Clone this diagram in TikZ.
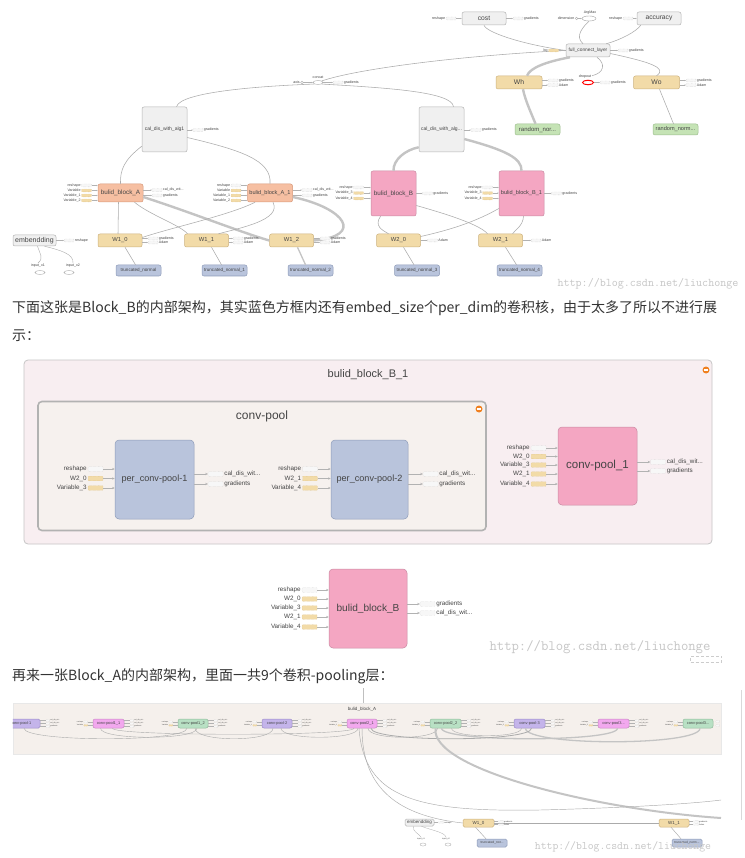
\documentclass[tikz,border=0pt]{standalone}
\usepackage{fontspec}
\setmainfont{Liberation Sans}
\newfontfamily\cjk{Noto Sans CJK SC}
\usetikzlibrary{arrows.meta,shapes.geometric,calc}
\newcommand\myfs[1]{\fontsize{#1}{#1}\selectfont}
\definecolor{gfill}{HTML}{F0F0F0}\definecolor{gdraw}{HTML}{B4B4B4}
\definecolor{ofill}{HTML}{F6BFA2}\definecolor{odraw}{HTML}{D89878}
\definecolor{pfill}{HTML}{F4A6C2}\definecolor{pdraw}{HTML}{C98AA2}
\definecolor{tfill}{HTML}{F2DBA8}\definecolor{tdraw}{HTML}{CDB27E}
\definecolor{grfill}{HTML}{C5E3B5}\definecolor{grdraw}{HTML}{9DBE8E}
\definecolor{bfill}{HTML}{B9C4DC}\definecolor{bdraw}{HTML}{8E9CB9}
\definecolor{vfill}{HTML}{C4B4EA}\definecolor{vdraw}{HTML}{9C8CC8}
\definecolor{mfill}{HTML}{F2A8EE}\definecolor{mdraw}{HTML}{C888C4}
\definecolor{g2fill}{HTML}{B8E0C4}\definecolor{g2draw}{HTML}{90BC9C}
\definecolor{edgec}{HTML}{ABABAB}\definecolor{thickc}{HTML}{C4C4C4}
\definecolor{bgA}{HTML}{F5F0EC}\definecolor{outerB}{HTML}{F8EEF1}
\definecolor{innerB}{HTML}{F6F1EE}\definecolor{txt}{HTML}{333333}
\definecolor{labc}{HTML}{444444}\definecolor{orangec}{HTML}{F08020}
\newcommand\instub[6]{%
 \node[#6] (#1) at (#3,#4) {};
 \node[slab,anchor=east] (#1t) at (#1.west) {#2};
 \draw[sarr] (#1.east) -- (#5.west |- #1.east);}
\newcommand\outstub[6]{%
 \node[#6] (#1) at (#3,#4) {};
 \node[slab,anchor=west] (#1t) at (#1.east) {#2};
 \draw[sarr] (#5.east |- #1.west) -- (#1.west);}
\begin{document}
\begin{tikzpicture}[x=1pt,y=-1pt,
 nd/.style={draw, rounded corners=2pt, inner sep=0pt, line width=0.5pt, text=labc},
 sz/.style 2 args={minimum width=#1, minimum height=#2},
 gn/.style={nd, fill=gfill, draw=gdraw},
 on/.style={nd, fill=ofill, draw=odraw},
 pn/.style={nd, fill=pfill, draw=pdraw},
 tnd/.style={nd, fill=tfill, draw=tdraw},
 grn/.style={nd, fill=grfill, draw=grdraw},
 bn/.style={nd, fill=bfill, draw=bdraw},
 vn/.style={nd, fill=vfill, draw=vdraw},
 mn/.style={nd, fill=mfill, draw=mdraw},
 g2n/.style={nd, fill=g2fill, draw=g2draw},
 stubsize/.style={minimum width=10pt, minimum height=2.8pt},
 sg/.style={draw=gray!55, densely dotted, fill=gray!6, rounded corners=0.6pt, inner sep=0pt, line width=0.3pt, stubsize},
 st/.style={draw=tdraw, densely dotted, fill=tfill, rounded corners=0.6pt, inner sep=0pt, line width=0.3pt, stubsize},
 slab/.style={font=\myfs{3.6}, text=labc, inner sep=0.6pt},
 sarr/.style={draw=gray!60, line width=0.3pt, -{Stealth[length=1.4pt,width=1.2pt]}},
 ed/.style={draw=edgec, line width=0.55pt},
 edk/.style={draw=thickc, line width=2.4pt},
 edm/.style={draw=thickc, line width=1.3pt},
 ttl/.style={text=labc, inner sep=0pt},
 wmk/.style={text=gray!45, inner sep=0pt, font=\ttfamily},
 para/.style={text=txt, inner sep=0pt, anchor=west},
 small ell/.style={ellipse, draw=gray!70, fill=white, inner sep=0pt, line width=0.4pt},
 mcirc/.style={circle, fill=orangec, minimum size=7pt, inner sep=0pt},
]
\useasboundingbox (0,0) rectangle (744,858);
\fill[white] (0,0) rectangle (744,858);

%%%%%%%%%%%%%%%% TOP GRAPH %%%%%%%%%%%%%%%%
\node[gn, sz={44pt}{13pt}, font=\myfs{6.7}] (cost) at (484,18.5) {cost};
\node[gn, sz={44pt}{13pt}, font=\myfs{6.7}] (acc) at (659,18.5) {accuracy};
\node[gn, sz={44pt}{13pt}, font=\myfs{4.8}] (fcl) at (588,50.5) {full\_connect\_layer};
\node[tnd, sz={46pt}{13pt}, font=\myfs{6.8}] (Wh) at (519,82.5) {Wh};
\node[tnd, sz={46pt}{13pt}, font=\myfs{6.8}] (Wo) at (656.5,82.5) {Wo};
\node[grn, sz={45pt}{11pt}, font=\myfs{6}] (rn1) at (537.5,129.5) {random\_nor...};
\node[grn, sz={45pt}{11pt}, font=\myfs{5.6}] (rn2) at (675.5,129.5) {random\_norm...};
\node[small ell, minimum width=14pt, minimum height=5pt] (argmax) at (589,18.5) {};
\node[ellipse, draw=red, line width=1pt, inner sep=0pt, minimum width=11pt, minimum height=4.5pt] (dropout) at (588,82.5) {};
\node[small ell, minimum width=10pt, minimum height=4pt] (concat) at (318,82.5) {};
\node[gn, sz={45pt}{45pt}, font=\myfs{5}] (cal1) at (164.5,129.5) {cal\_dis\_with\_alg1};
\node[gn, sz={45pt}{45pt}, font=\myfs{5}] (cal2) at (441.5,129.5) {cal\_dis\_with\_alg...};
\node[on, sz={45pt}{18pt}, font=\myfs{6.3}] (bbA) at (120.5,193) {bulid\_block\_A};
\node[on, sz={45pt}{18pt}, font=\myfs{5.6}] (bbA1) at (270,193) {bulid\_block\_A\_1};
\node[pn, sz={45pt}{45pt}, font=\myfs{6.3}] (bbB) at (393.5,193.5) {bulid\_block\_B};
\node[pn, sz={45pt}{45pt}, font=\myfs{5.6}] (bbB1) at (521.5,193.5) {bulid\_block\_B\_1};
\node[tnd, sz={44pt}{13pt}, font=\myfs{5.8}] (W10) at (120,240.5) {W1\_0};
\node[tnd, sz={44pt}{13pt}, font=\myfs{5.8}] (W11) at (206.5,240.5) {W1\_1};
\node[tnd, sz={44pt}{13pt}, font=\myfs{5.8}] (W12) at (291.5,240.5) {W1\_2};
\node[tnd, sz={44pt}{13pt}, font=\myfs{5.8}] (W20) at (398.5,240.5) {W2\_0};
\node[tnd, sz={44pt}{13pt}, font=\myfs{5.8}] (W21) at (500.5,240.5) {W2\_1};
\node[bn, sz={45pt}{11pt}, font=\myfs{4.6}] (tn0) at (138.5,270.5) {truncated\_normal};
\node[bn, sz={45pt}{11pt}, font=\myfs{4.6}] (tn1) at (224.5,270.5) {truncated\_normal\_1};
\node[bn, sz={45pt}{11pt}, font=\myfs{4.6}] (tn2) at (310.5,270.5) {truncated\_normal\_2};
\node[bn, sz={45pt}{11pt}, font=\myfs{4.6}] (tn3) at (417,270.5) {truncated\_normal\_3};
\node[bn, sz={45pt}{11pt}, font=\myfs{4.6}] (tn4) at (519.5,270.5) {truncated\_normal\_4};
\node[gn, sz={43pt}{11pt}, font=\myfs{7}] (emb) at (34.5,240.5) {embendding};
\node[small ell, minimum width=10pt, minimum height=4pt] (x1) at (40,272.5) {};
\node[small ell, minimum width=10pt, minimum height=4pt] (x2) at (69,272.5) {};
\node[slab] (x1t) at (38,265.5) {input\_x1};
\node[slab] (x2t) at (73,265.5) {input\_x2};

% edges
\draw[ed] (cost.south) .. controls (486,32) and (520,44) .. (fcl.west);
\draw[ed] ([xshift=4pt]acc.south west) .. controls (636,32) and (620,40) .. ([xshift=-4pt]fcl.north east);
\draw[ed] (argmax.south) .. controls (584,26) and (574,36) .. ([xshift=-5pt]fcl.north);
\draw[ed] (concat.north east) .. controls (360,68) and (470,55) .. (fcl.west);
\draw[ed] (concat.south east) .. controls (390,88) and (452,92) .. ([xshift=12pt]cal2.north);
\draw[ed] (concat.south west) .. controls (260,86) and (180,92) .. ([xshift=12pt]cal1.north);
\draw[ed] ([yshift=6pt]cal1.south west) .. controls (124,160) and (120,170) .. (bbA.north);
\draw[ed] ([yshift=-8pt]cal1.east) .. controls (240,150) and (272,160) .. (bbA1.north);
\draw[edk] (bbB.north) .. controls (393,160) and (405,150) .. ([yshift=5pt]cal2.south west);
\draw[edk] ([yshift=-9.5pt]cal2.east) .. controls (505,150) and (522,158) .. (bbB1.north);
\draw[edk] ([xshift=-18pt]fcl.south) .. controls (545,62) and (530,68) .. ([xshift=8pt]Wh.north);
\draw[edk] ([xshift=4pt]Wh.south) .. controls (525,100) and (532,115) .. ([xshift=-2pt]rn1.north);
\draw[ed] ([xshift=9pt]fcl.south) .. controls (606,64) and (604,73) .. ([xshift=4pt,yshift=4pt]dropout.north);
\draw[ed] ([yshift=-3pt]fcl.east) .. controls (650,62) and (668,68) .. (Wo.north);
\draw[ed] ([xshift=3pt]Wo.south) -- ([xshift=-2pt]rn2.north);
\draw[ed] ([xshift=-2pt]bbA.south) -- ([xshift=-2pt]W10.north);
\draw[ed] ([xshift=14pt]bbA.south) .. controls (150,215) and (180,225) .. ([xshift=-19pt]W11.north);
\draw[edk] ([yshift=-4pt]bbA.east) .. controls (190,212) and (240,232) .. (W12.west);
\draw[edk] ([yshift=-4pt]bbA1.east) .. controls (345,208) and (365,236) .. (W12.east);
\draw[ed] ([xshift=-15pt]bbA1.south) .. controls (230,215) and (170,228) .. ([yshift=3pt]W10.east);
\draw[ed] ([xshift=3pt]bbA1.south) .. controls (282,220) and (240,228) .. ([xshift=12pt]W11.north);
\draw[ed] ([xshift=-13pt]bbB.south) .. controls (374,226) and (382,230) .. ([xshift=-10pt]W20.north);
\draw[ed] ([yshift=-12pt]bbB.east) .. controls (450,215) and (480,225) .. ([xshift=-13pt]W21.north);
\draw[ed] ([yshift=-15pt]bbB1.west) .. controls (470,225) and (440,232) .. ([yshift=4pt]W20.east);
\draw[ed] ([xshift=2pt]bbB1.south) .. controls (523,226) and (515,230) .. ([xshift=12pt]W21.north);
\draw[ed] ([xshift=5pt]W10.south) -- ([xshift=-3pt]tn0.north);
\draw[ed] ([xshift=5pt]W11.south) -- ([xshift=-3pt]tn1.north);
\draw[edm] ([xshift=6pt]W12.south) -- ([xshift=-5pt]tn2.north);
\draw[ed] ([xshift=5pt]W20.south) -- ([xshift=-3pt]tn3.north);
\draw[ed] ([xshift=5pt]W21.south) -- ([xshift=-3pt]tn4.north);
\draw[ed, line width=0.4pt] ([xshift=3pt]emb.south) .. controls (40,254) and (44,258) .. (x1t.north);
\draw[ed, line width=0.4pt] ([xshift=10pt]emb.south) .. controls (60,250) and (74,254) .. (x2t.north);

% stubs
\instub{s1}{reshape}{451}{18.5}{cost}{sg}
\outstub{s2}{gradients}{518}{18.5}{cost}{sg}
\instub{s3}{reshape}{628}{18.5}{acc}{sg}
\node[circle, draw=gray!70, inner sep=0pt, minimum size=2.6pt, line width=0.3pt] (dimc) at (576.5,18.5) {};
\node[slab, anchor=east] (dimt) at (dimc.west) {dimension};
\draw[sarr] (dimc.east) -- (argmax.west);
\node[slab] (argt) at (590,12.3) {ArgMax};
\instub{s4}{bo}{553.5}{50.5}{fcl}{st}
\outstub{s5}{gradients}{623}{50.5}{fcl}{sg}
\node[circle, draw=gray!70, inner sep=0pt, minimum size=2.6pt, line width=0.3pt] (axc) at (302,82.5) {};
\node[slab, anchor=east] (axt) at (axc.west) {axis};
\draw[sarr] (axc.east) -- (concat.west);
\node[slab] (cct) at (318,77) {concat};
\outstub{s6}{gradients}{338}{82.5}{concat}{sg}
\outstub{s7}{gradients}{553}{80.5}{Wh}{sg}
\outstub{s8}{Adam}{553}{85}{Wh}{sg}
\node[slab] (dpt) at (585,76.5) {dropout};
\outstub{s9}{gradients}{605}{82.5}{dropout}{sg}
\outstub{s10}{gradients}{691}{80.5}{Wo}{sg}
\outstub{s11}{Adam}{691}{85}{Wo}{sg}
\outstub{s12}{gradients}{198}{130}{cal1}{sg}
\outstub{s13}{gradients}{476}{130}{cal2}{sg}
\instub{s14}{reshape}{86.5}{185.5}{bbA}{sg}
\instub{s15}{Variable}{86.5}{190.5}{bbA}{st}
\instub{s16}{Variable\_1}{86.5}{195.5}{bbA}{st}
\instub{s17}{Variable\_2}{86.5}{200.5}{bbA}{st}
\outstub{s18}{cal\_dis\_wit...}{157}{190}{bbA}{sg}
\outstub{s19}{gradients}{157}{195.5}{bbA}{sg}
\instub{s20}{reshape}{236}{185.5}{bbA1}{sg}
\instub{s21}{Variable}{236}{190.5}{bbA1}{st}
\instub{s22}{Variable\_1}{236}{195.5}{bbA1}{st}
\instub{s23}{Variable\_2}{236}{200.5}{bbA1}{st}
\outstub{s24}{cal\_dis\_wit...}{307}{190}{bbA1}{sg}
\outstub{s25}{gradients}{307}{195.5}{bbA1}{sg}
\instub{s26}{reshape}{358.5}{187.5}{bbB}{sg}
\instub{s27}{Variable\_3}{358.5}{193}{bbB}{st}
\instub{s28}{Variable\_4}{358.5}{198.5}{bbB}{st}
\outstub{s29}{gradients}{427.5}{193.5}{bbB}{sg}
\instub{s30}{reshape}{487.5}{187.5}{bbB1}{sg}
\instub{s31}{Variable\_3}{487.5}{193}{bbB1}{st}
\instub{s32}{Variable\_4}{487.5}{198.5}{bbB1}{st}
\outstub{s33}{gradients}{556.5}{193.5}{bbB1}{sg}
\outstub{s34}{gradients}{153}{238.5}{W10}{sg}
\outstub{s35}{Adam}{153}{242.5}{W10}{sg}
\outstub{s36}{gradients}{238}{238.5}{W11}{sg}
\outstub{s37}{Adam}{238}{242.5}{W11}{sg}
\outstub{s38}{gradients}{325}{238.5}{W12}{sg}
\outstub{s39}{Adam}{325}{242.5}{W12}{sg}
\outstub{s40}{Adam}{432.5}{240.5}{W20}{sg}
\outstub{s41}{Adam}{536}{240.5}{W21}{sg}
\outstub{s42}{reshape}{69}{240.5}{emb}{sg}

\node[wmk, font=\ttfamily\myfs{11.7}] (wm1) at (648,284) {http://blog.csdn.net/liuchonge};

%%%%%%%%%%%%%%%% TEXT %%%%%%%%%%%%%%%%
\node[para, font=\cjk\myfs{14}] (line1) at (12,308) {下面这张是Block\_B的内部架构，其实蓝色方框内还有embed\_size个per\_dim的卷积核，由于太多了所以不进行展};
\node[para, font=\cjk\myfs{14}] (line2) at (12,336) {示：};

%%%%%%%%%%%%%%%% MIDDLE FIGURE %%%%%%%%%%%%%%%%
\node[draw=gray!45, fill=outerB, rounded corners=4pt, line width=0.8pt, sz={688pt}{184pt}] (outerbox) at (368,452) {};
\node[ttl, font=\myfs{11}] (outt) at (368,375) {bulid\_block\_B\_1};
\node[mcirc] (mc1) at (706,370) {};
\draw[white, line width=1.1pt] ([xshift=-2.2pt]mc1.center) -- ([xshift=2.2pt]mc1.center);
\node[draw=gray!60, fill=innerB, rounded corners=4pt, line width=1.6pt, sz={448pt}{129pt}] (innerbox) at (262,466) {};
\node[ttl, font=\myfs{12}] (innt) at (262,416) {conv-pool};
\node[mcirc] (mc2) at (479,409) {};
\draw[white, line width=1.1pt] ([xshift=-2.2pt]mc2.center) -- ([xshift=2.2pt]mc2.center);
\node[bn, rounded corners=4pt, sz={79pt}{79pt}, font=\myfs{9.1}] (pcp1) at (154.5,479.5) {per\_conv-pool-1};
\node[bn, rounded corners=4pt, sz={77pt}{79pt}, font=\myfs{9.1}] (pcp2) at (369.5,479.5) {per\_conv-pool-2};
\node[pn, rounded corners=4pt, sz={79pt}{78pt}, font=\myfs{11.5}] (cpone) at (597.5,466) {conv-pool\_1};
\node[pn, rounded corners=4pt, sz={78pt}{79pt}, font=\myfs{10.1}] (bbBm) at (368,608.5) {bulid\_block\_B};
\begin{scope}[stubsize/.style={minimum width=15pt, minimum height=4.6pt},
  slab/.style={font=\myfs{6.3}, text=labc, inner sep=1pt},
  sarr/.style={draw=gray!60, line width=0.5pt, -{Stealth[length=2.6pt,width=2.2pt]}}]
\instub{m1}{reshape}{95.5}{469}{pcp1}{sg}
\instub{m2}{W2\_0}{95.5}{478.5}{pcp1}{st}
\instub{m3}{Variable\_3}{95.5}{488}{pcp1}{st}
\outstub{m4}{cal\_dis\_wit...}{215.5}{474}{pcp1}{sg}
\outstub{m5}{gradients}{215.5}{484}{pcp1}{sg}
\instub{m6}{reshape}{310}{469}{pcp2}{sg}
\instub{m7}{W2\_1}{310}{478.5}{pcp2}{st}
\instub{m8}{Variable\_4}{310}{488}{pcp2}{st}
\outstub{m9}{cal\_dis\_wit...}{430.5}{474}{pcp2}{sg}
\outstub{m10}{gradients}{430.5}{484}{pcp2}{sg}
\instub{m11}{reshape}{538.5}{448}{cpone}{sg}
\instub{m12}{W2\_0}{538.5}{456.5}{cpone}{st}
\instub{m13}{Variable\_3}{538.5}{465}{cpone}{st}
\instub{m14}{W2\_1}{538.5}{474}{cpone}{st}
\instub{m15}{Variable\_4}{538.5}{484}{cpone}{st}
\outstub{m16}{cal\_dis\_wit...}{658}{462}{cpone}{sg}
\outstub{m17}{gradients}{658}{471}{cpone}{sg}
\instub{m18}{reshape}{309.5}{590}{bbBm}{sg}
\instub{m19}{W2\_0}{309.5}{599}{bbBm}{st}
\instub{m20}{Variable\_3}{309.5}{608}{bbBm}{st}
\instub{m21}{W2\_1}{309.5}{617}{bbBm}{st}
\instub{m22}{Variable\_4}{309.5}{627}{bbBm}{st}
\outstub{m23}{gradients}{427.5}{604}{bbBm}{sg}
\outstub{m24}{cal\_dis\_wit...}{427.5}{613}{bbBm}{sg}
\end{scope}
\node[wmk, font=\ttfamily\myfs{14.3}] (wm2) at (600,647) {http://blog.csdn.net/liuchonge};
\node[draw=gray!40, densely dashed, line width=0.4pt, sz={31pt}{6pt}, inner sep=0pt] (sbox) at (706,659) {};

%%%%%%%%%%%%%%%% TEXT 3 %%%%%%%%%%%%%%%%
\node[para, font=\cjk\myfs{14}] (line3) at (12,676) {再来一张Block\_A的内部架构，里面一共9个卷积-pooling层：};

%%%%%%%%%%%%%%%% BLOCK A %%%%%%%%%%%%%%%%
\node[fill=bgA, draw=gray!18, line width=0.5pt, sz={708pt}{51pt}, inner sep=0pt] (boxA) at (367,728.5) {};
\coordinate (vt) at (363,688);
\draw[gray!50, line width=0.4pt] (vt) -- (vt |- boxA.north);
\node[ttl, font=\myfs{4.5}] (boxAt) at (362,709) {bulid\_block\_A};
\begin{scope}
\clip (boxA.south west) rectangle (boxA.north east);
\node[vn, rounded corners=1.5pt, sz={38pt}{9pt}, font=\myfs{3.9}] (ba1) at (21,723.5) {conv-pool-1};
\end{scope}
\begin{scope}[every node/.append style={rounded corners=1.5pt, font=\myfs{3.9}}]
\node[mn, sz={31pt}{9pt}] (ba2) at (108.5,723.5) {conv-pool1\_1};
\node[g2n, sz={30pt}{9pt}] (ba3) at (193,723.5) {conv-pool1\_2};
\node[vn, sz={30pt}{9pt}] (ba4) at (277,723.5) {conv-pool-2};
\node[mn, sz={30pt}{9pt}] (ba5) at (362,723.5) {conv-pool2\_1};
\node[g2n, sz={31pt}{9pt}] (ba6) at (445.5,723.5) {conv-pool2\_2};
\node[vn, sz={31pt}{9pt}] (ba7) at (529.5,723.5) {conv-pool-3};
\node[mn, sz={31pt}{9pt}] (ba8) at (613.5,723.5) {conv-pool3...};
\node[g2n, sz={30pt}{9pt}] (ba9) at (698,723.5) {conv-pool3...};
\end{scope}
% edges inside block A
\draw[ed, line width=0.4pt] ([xshift=3pt]ba1.south) .. controls +(0,14) and +(0,14) .. ([xshift=-6pt]ba3.south);
\draw[ed, line width=0.4pt] ([xshift=-8pt]ba2.south) .. controls +(0,12) and +(0,12) .. ([xshift=4pt]ba3.south);
\draw[ed, line width=0.4pt] ([xshift=2pt]ba3.south) .. controls +(0,14) and +(0,14) .. ([xshift=-4pt]ba4.south);
\draw[ed, line width=0.4pt] ([xshift=4pt]ba2.south) .. controls +(0,8) and +(0,8) .. ([xshift=-8pt]ba5.south);
\draw[ed, line width=0.4pt] ([xshift=4pt]ba4.south) .. controls +(0,12) and +(0,12) .. ([xshift=-4pt]ba5.south);
\draw[ed, line width=0.4pt] ([xshift=6pt]ba5.south) .. controls +(0,12) and +(0,12) .. ([xshift=-8pt]ba6.south);
\draw[edm] ([xshift=-4pt]ba6.south) .. controls +(0,14) and +(0,14) .. ([xshift=4pt]ba8.south);
\draw[edm] ([xshift=-4pt]ba7.south) .. controls +(0,18) and +(0,18) .. ([xshift=2pt]ba9.south);
\draw[ed, line width=0.8pt] ([xshift=9pt]ba5.south) .. controls +(0,14) and +(0,14) .. ([xshift=2pt]ba7.south);
\draw[ed, line width=0.4pt] ([xshift=6pt]ba6.south) .. controls +(0,10) and +(0,10) .. ([xshift=-8pt]ba7.south);
% stubs between block A nodes
\begin{scope}[stubsize/.style={minimum width=4pt, minimum height=1.6pt},
  slab/.style={font=\myfs{1.7}, text=labc, inner sep=0.3pt},
  sarr/.style={draw=gray!60, line width=0.2pt}]
\foreach \i/\p/\q/\v in {1/ba1/ba2/Variable, 2/ba2/ba3/Variable, 3/ba3/ba4/Variable\_1, 4/ba4/ba5/Variable\_1, 5/ba5/ba6/Variable\_1, 6/ba6/ba7/Variable\_2, 7/ba7/ba8/Variable\_2, 8/ba8/ba9/Variable\_2} {
  \path (\p.east) ++(7.5,-3) node[sg] (ga\i) {};
  \path (\p.east) ++(7.5,0) node[sg] (gb\i) {};
  \path (\p.east) ++(7.5,3) node[sg] (gc\i) {};
  \node[slab, anchor=west] (gat\i) at (ga\i.east) {cal\_dis\_wit...};
  \node[slab, anchor=west] (gbt\i) at (gb\i.east) {cal\_dis\_wit...};
  \node[slab, anchor=west] (gct\i) at (gc\i.east) {gradients};
  \draw[sarr] (\p.east |- ga\i) -- (ga\i.west);
  \draw[sarr] (\p.east |- gb\i) -- (gb\i.west);
  \draw[sarr] (\p.east |- gc\i) -- (gc\i.west);
  \path (\q.west) ++(-7,-1.8) node[sg] (ha\i) {};
  \path (\q.west) ++(-7,1.8) node[st] (hb\i) {};
  \node[slab, anchor=east] (hat\i) at (ha\i.west) {reshape};
  \node[slab, anchor=east] (hbt\i) at (hb\i.west) {\v};
  \draw[sarr] (ha\i.east) -- (\q.west |- ha\i);
  \draw[sarr] (hb\i.east) -- (\q.west |- hb\i);
}
\path (ba9.east) ++(4.5,-2) node[sg] (gz1) {};
\path (ba9.east) ++(4.5,2) node[sg] (gz2) {};
\end{scope}

% below block A
\node[gn, rounded corners=1.5pt, sz={29pt}{7pt}, font=\myfs{4.5}] (emb2) at (419.5,822.5) {embendding};
\node[tnd, rounded corners=1.5pt, sz={31pt}{8pt}, font=\myfs{4.5}] (W1a) at (478.5,823) {W1\_0};
\node[tnd, rounded corners=1.5pt, sz={30pt}{8pt}, font=\myfs{4.5}] (W1b) at (674,823) {W1\_1};
\node[bn, rounded corners=1.5pt, sz={30pt}{8pt}, font=\myfs{3.3}] (tnA) at (492,843) {truncated\_nor...};
\node[bn, rounded corners=1.5pt, sz={30pt}{8pt}, font=\myfs{3.2}] (tnB) at (687,843) {truncated\_norm...};
\node[small ell, minimum width=6pt, minimum height=3pt, line width=0.3pt] (xb1) at (423,844.5) {};
\node[small ell, minimum width=6pt, minimum height=3pt, line width=0.3pt] (xb2) at (448,844.5) {};
\node[slab, font=\myfs{2}] (xb1t) at (421,839) {input\_x1};
\node[slab, font=\myfs{2}] (xb2t) at (446,839) {input\_x2};
\coordinate (endT) at (721,818);
\coordinate (endF) at (721,800);
\draw[edk, line width=2pt] ([xshift=-10pt]ba6.south) .. controls (430,770) and (600,810) .. (endT);
\draw[ed, line width=0.45pt] (ba5.south) .. controls (362,790) and (400,816) .. (W1a.west);
\draw[ed, line width=0.45pt] ([xshift=-3pt]ba5.south) .. controls (364,800) and (420,812) .. (540,810) .. controls (620,808) and (690,804) .. (endF);
\draw[ed, line width=0.45pt] (W1a.east) -- (W1b.west);
\draw[ed, line width=0.45pt] ([xshift=-3pt]W1a.south) -- ([xshift=-6pt]tnA.north);
\draw[ed, line width=0.45pt] ([xshift=-3pt]W1b.south) -- ([xshift=-6pt]tnB.north);
\draw[ed, line width=0.3pt] ([xshift=-6pt]emb2.south) .. controls (412,832) and (420,834) .. (xb1t.north);
\draw[ed, line width=0.3pt] ([xshift=2pt]emb2.south) .. controls (430,830) and (445,832) .. (xb2t.north);
\begin{scope}[stubsize/.style={minimum width=5pt, minimum height=1.8pt},
  slab/.style={font=\myfs{2}, text=labc, inner sep=0.3pt},
  sarr/.style={draw=gray!60, line width=0.2pt}]
\outstub{b1}{reshape}{441}{822.5}{emb2}{sg}
\outstub{b2}{gradients}{501}{821.5}{W1a}{sg}
\outstub{b3}{Adam}{501}{824.5}{W1a}{sg}
\outstub{b4}{gradients}{696}{821.5}{W1b}{sg}
\outstub{b5}{Adam}{696}{824.5}{W1b}{sg}
\end{scope}
\node[wmk, font=\ttfamily\myfs{11.4}] (wm3) at (623,847) {http://blog.csdn.net/liuchonge};
\coordinate (sb1) at (741,690);
\coordinate (sb2) at (741,820);
\draw[gray!30, line width=0.5pt] (sb1) -- (sb2);
\end{tikzpicture}
\end{document}
